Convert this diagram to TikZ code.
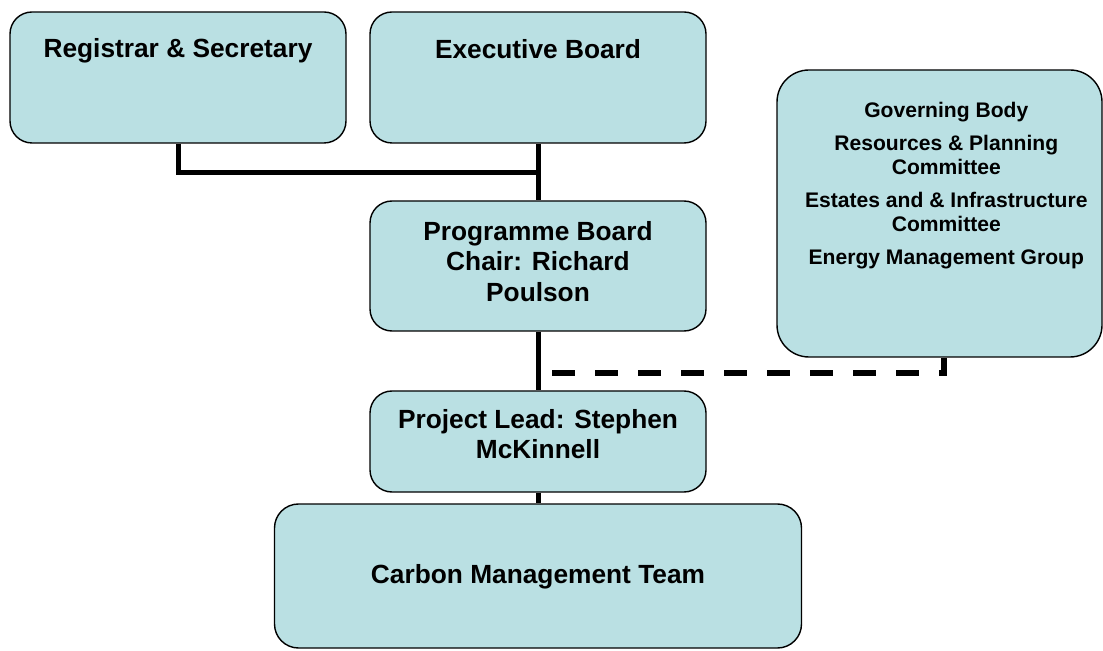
\documentclass[tikz,border=0pt]{standalone}
\usepackage{fontspec}
\setmainfont{Liberation Sans}
\usepackage{tikz}
\usetikzlibrary{positioning}
\definecolor{boxfill}{RGB}{186, 224, 227}

\begin{document}
\begin{tikzpicture}[
    box/.style={draw, line width=1pt, fill=boxfill, rounded corners=0.55cm, inner sep=0pt},
    title/.style={font=\fontsize{18.7}{21.5}\selectfont\bfseries, align=center, inner sep=0pt},
    small/.style={font=\fontsize{15}{17}\selectfont\bfseries, align=center, inner sep=0pt},
    link/.style={line width=0.125cm},
    dashlink/.style={line width=0.15cm, dash pattern=on 0.575cm off 0.5cm, dash phase=0.725cm}]
  \useasboundingbox (0, 0) rectangle (27.575, 16.25);

  % boxes
  \node[box, minimum width=8.4cm, minimum height=3.275cm] (reg) at (4.45, 14.3125) {};
  \node[box, minimum width=8.4cm, minimum height=3.275cm] (exec) at (13.45, 14.3125) {};
  \node[box, minimum width=8.4cm, minimum height=3.25cm] (prog) at (13.45, 9.6) {};
  \node[box, minimum width=8.4cm, minimum height=2.525cm] (lead) at (13.45, 5.2125) {};
  \node[box, rounded corners=0.6cm, minimum width=13.175cm, minimum height=3.6cm] (team) at (13.45, 1.85) {};
  \node[box, rounded corners=0.8cm, minimum width=8.125cm, minimum height=7.175cm] (gov) at (23.4875, 10.9125) {};

  % texts
  \node[title, below=0.675cm of reg.north] (regtext) {Registrar \& Secretary};
  \node[title, below=0.7cm of exec.north] (exectext) {Executive Board};
  \node[title, below=0.525cm of prog.north] (progtext) {Programme Board\\ Chair: Richard\\ Poulson};
  \node[title, below=0.475cm of lead.north] (leadtext) {Project Lead: Stephen\\ McKinnell};
  \node[title, below=1.525cm of team.north] (teamtext) {Carbon Management Team};
  \node[small, below=0.825cm of gov.north, xshift=0.17cm] (govtext) {Governing Body\\[6.4pt]
    Resources \& Planning\\ Committee\\[6.4pt]
    Estates and \& Infrastructure\\ Committee\\[6.4pt]
    Energy Management Group};

  % reporting lines
  \draw[link] (reg.south) -- ++(0, -0.725) -| (exec.south);
  \draw[link] (exec.south) -- (prog.north);
  \draw[link] (prog.south) -- (lead.north);
  \draw[link] (lead.south) -- (team.north);

  \coordinate (tap) at (13.45, 6.925);
  \draw[dashlink] (tap) -| ([xshift=0.11cm]gov.south);
\end{tikzpicture}
\end{document}
